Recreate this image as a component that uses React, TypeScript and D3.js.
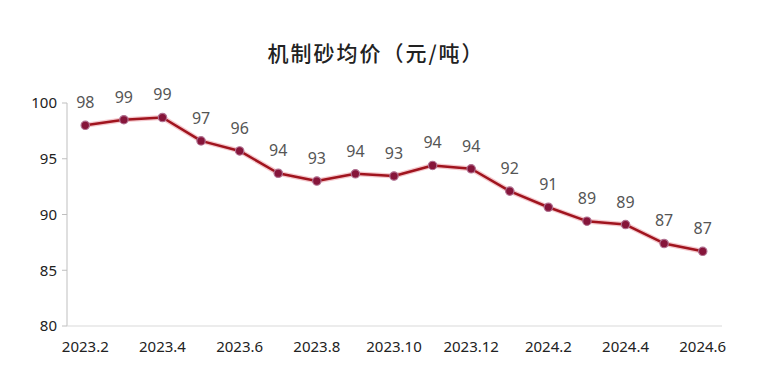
import React from "react";
import * as d3 from "d3";

const months = [
  "2023.2", "2023.3", "2023.4", "2023.5", "2023.6", "2023.7", "2023.8", "2023.9",
  "2023.10", "2023.11", "2023.12", "2024.1", "2024.2", "2024.3", "2024.4", "2024.5", "2024.6",
];
const prices = [
  98.0, 98.5, 98.7, 96.6, 95.7, 93.7, 93.0, 93.65, 93.45, 94.4, 94.1, 92.1, 90.65, 89.4, 89.1, 87.4, 86.7,
];
const yTicks = [80, 85, 90, 95, 100];

const width = 772;
const height = 373;
const margin = { top: 103, right: 50, bottom: 47, left: 66 };
const font = "'Noto Sans', 'Open Sans', sans-serif";

const App = () => {
  const x = d3
    .scaleBand<string>()
    .domain(months)
    .range([margin.left, width - margin.right])
    .paddingInner(0)
    .paddingOuter(0);
  const cx = (m: string) => (x(m) as number) + x.bandwidth() / 2;

  const y = d3
    .scaleLinear()
    .domain([80, 100])
    .range([height - margin.bottom, margin.top]);

  const line = d3
    .line<number>()
    .x((_, i) => cx(months[i]))
    .y((d) => y(d));

  const axisX = margin.left + 1;

  return (
    <svg
      width={width}
      height={height}
      style={{ position: "absolute", left: 0, top: 0, background: "#fff" }}
    >
      <text
        x={376}
        y={61}
        textAnchor="middle"
        fontFamily="'Noto Sans CJK SC', sans-serif"
        fontSize={21}
        fontWeight={500}
        letterSpacing={2}
        fill="#222"
      >
        机制砂均价（元/吨）
      </text>

      {/* y axis */}
      <line x1={axisX} x2={axisX} y1={y(100)} y2={y(80)} stroke="#bfbfbf" />
      {yTicks.map((t) => (
        <g key={t}>
          <line x1={axisX - 5} x2={axisX} y1={y(t)} y2={y(t)} stroke="#bfbfbf" />
          <text
            x={57}
            y={y(t)}
            dy="0.35em"
            textAnchor="end"
            fontFamily={font}
            fontSize={15}
            fill="#222"
          >
            {t}
          </text>
        </g>
      ))}

      {/* x axis */}
      <line
        x1={axisX}
        x2={width - margin.right}
        y1={y(80)}
        y2={y(80)}
        stroke="#d9d9d9"
      />
      {months.map((m, i) =>
        i % 2 === 0 ? (
          <text
            key={m}
            x={cx(m)}
            y={352}
            textAnchor="middle"
            fontFamily={font}
            fontSize={15}
            fill="#222"
          >
            {m}
          </text>
        ) : null
      )}

      {/* line */}
      <path
        d={line(prices) as string}
        fill="none"
        stroke="#e06070"
        strokeOpacity={0.35}
        strokeWidth={5}
        strokeLinejoin="round"
      />
      <path
        d={line(prices) as string}
        fill="none"
        stroke="#a0141e"
        strokeWidth={2.5}
        strokeLinejoin="round"
      />
      {prices.map((v, i) => (
        <g key={months[i]}>
          <circle
            cx={cx(months[i])}
            cy={y(v)}
            r={4.2}
            fill="#86153a"
            stroke="#b07090"
            strokeWidth={1.2}
          />
          <text
            x={cx(months[i])}
            y={y(v) - 17}
            textAnchor="middle"
            fontFamily={font}
            fontSize={16}
            fill="#555"
          >
            {Math.round(v)}
          </text>
        </g>
      ))}
    </svg>
  );
};

export default App;
